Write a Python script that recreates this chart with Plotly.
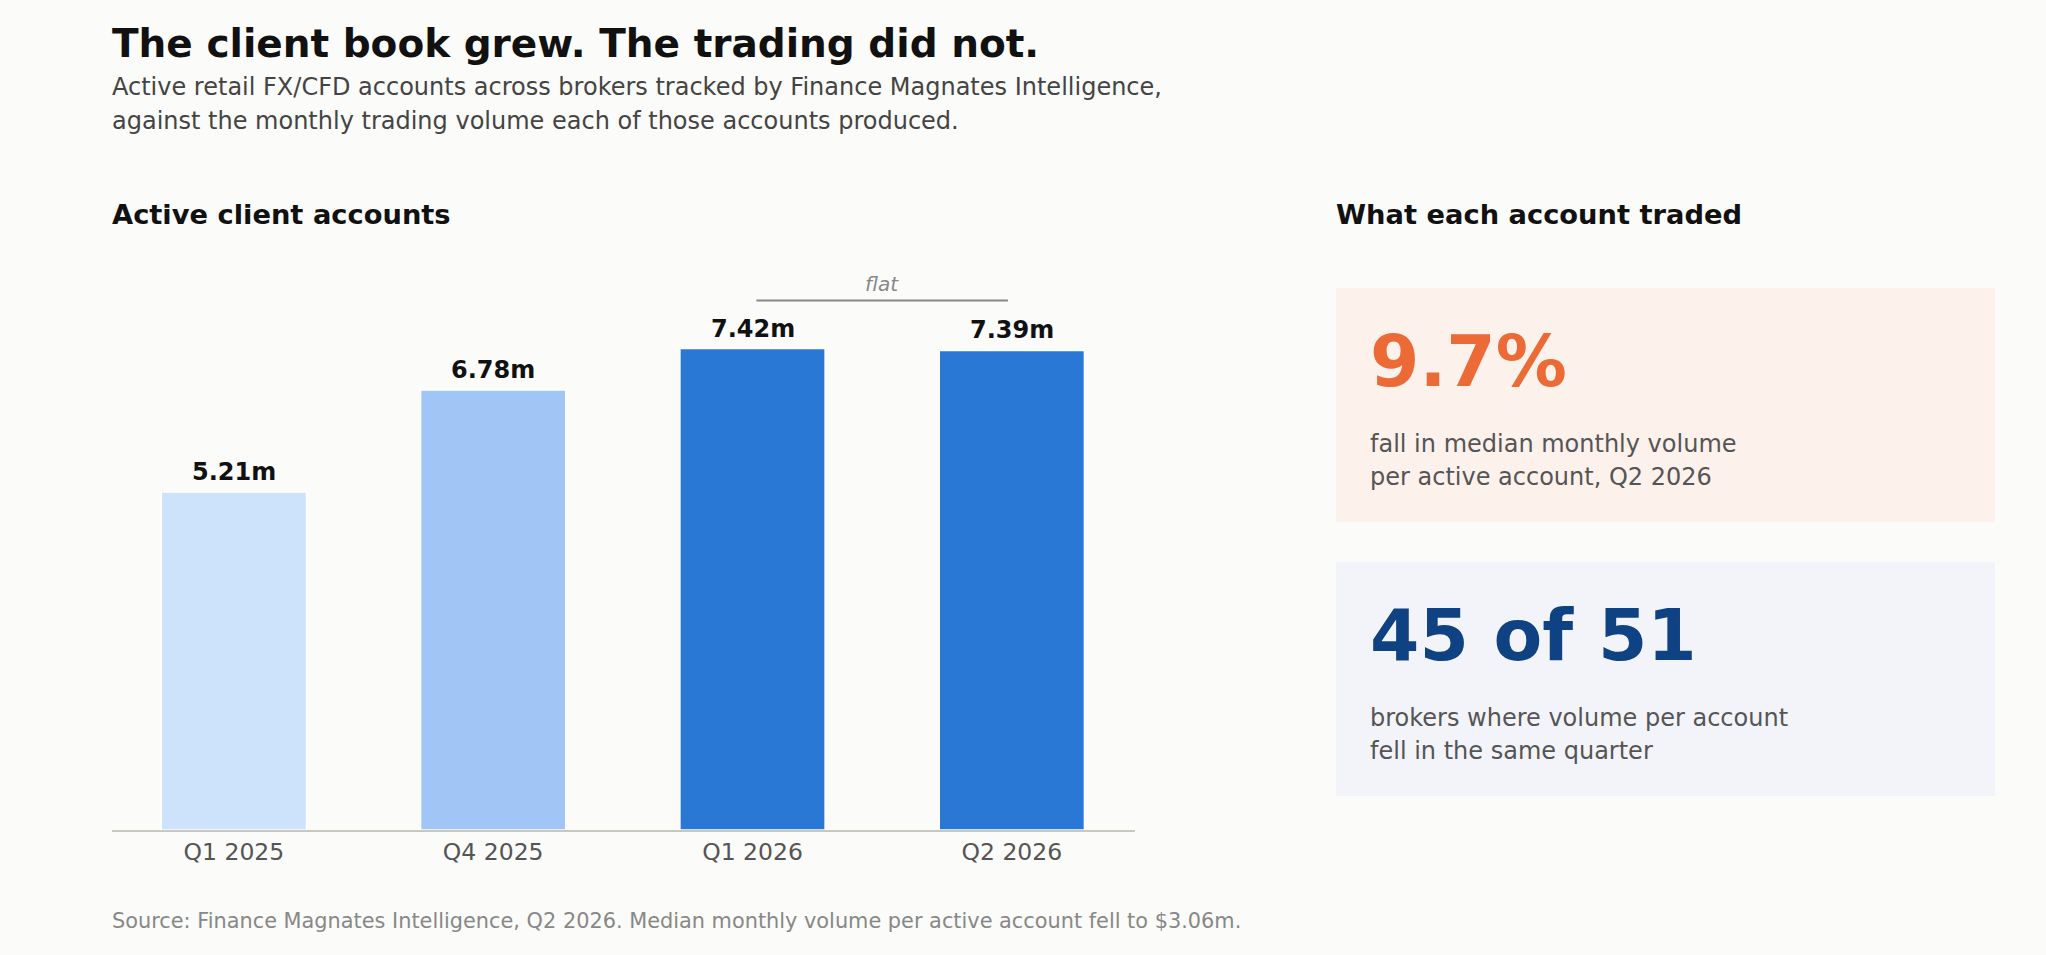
import plotly.graph_objects as go

W, H = 2046, 955
FONT = "DejaVu Sans"
BG = "#fbfbf9"

# data
quarters = ["Q1 2025", "Q4 2025", "Q1 2026", "Q2 2026"]
accounts_m = [5.21, 6.78, 7.42, 7.39]
bar_colors = ["#cde2fb", "#a1c5f4", "#2a78d6", "#2a78d6"]

stat_values = ["9.7%", "45 of 51"]
stat_colors = ["#ec6a36", "#0f4282"]
stat_lines = [
    ["fall in median monthly volume", "per active account, Q2 2026"],
    ["brokers where volume per account", "fell in the same quarter"],
]
card_fills = ["#fdf1ec", "#f3f4f9"]


def px_x(x):
    return x / W


def px_y(y):
    return 1 - y / H


def note(text, x, baseline, size, color, bold=False, italic=False, xanchor="left"):
    # place text by its baseline in pixels
    return dict(
        text=text, xref="paper", yref="paper",
        x=px_x(x), y=px_y(baseline - 0.346 * size),
        xanchor=xanchor, yanchor="middle", showarrow=False,
        font=dict(family=FONT, size=size, color=color,
                  weight="bold" if bold else "normal",
                  style="italic" if italic else "normal"),
    )


fig = go.Figure()
fig.add_trace(go.Bar(
    x=quarters, y=accounts_m, width=0.56,
    marker=dict(color=bar_colors, line=dict(color="white", width=1.5)),
    cliponaxis=False, hoverinfo="skip",
))

flat_y = max(accounts_m) * 1.1

shapes = [
    dict(type="line", xref="x", yref="y", x0=2.015, x1=2.985, y0=flat_y, y1=flat_y,
         line=dict(color="#888", width=2)),
]
card_tops = [288, 562]
for top, fill in zip(card_tops, card_fills):
    shapes.append(dict(type="rect", xref="paper", yref="paper", layer="below",
                       x0=px_x(1336), x1=px_x(1995), y0=px_y(top + 234), y1=px_y(top),
                       fillcolor=fill, line=dict(width=0)))

annotations = [
    note("The client book grew. The trading did not.", 110, 57, 39, "#111", bold=True),
    note("Active retail FX/CFD accounts across brokers tracked by Finance Magnates Intelligence,",
         110, 95, 24, "#444"),
    note("against the monthly trading volume each of those accounts produced.", 110, 129, 24, "#444"),
    note("Active client accounts", 110, 224, 27.3, "#111", bold=True),
    note("What each account traded", 1334, 224, 27.3, "#111", bold=True),
    note("Source: Finance Magnates Intelligence, Q2 2026. Median monthly volume per active account fell to $3.06m.",
         110, 928, 20.85, "#888"),
    dict(text="flat", xref="x", yref="y", x=2.5, y=flat_y, yanchor="bottom", yshift=2,
         showarrow=False, font=dict(family=FONT, size=20, color="#888", style="italic")),
]
for q, v in zip(quarters, accounts_m):
    annotations.append(dict(text=f"{v:.2f}m", xref="x", yref="y", x=q, y=v,
                            yanchor="bottom", yshift=4, showarrow=False,
                            font=dict(family=FONT, size=24, color="#111", weight="bold")))
for top, value, color, lines in zip(card_tops, stat_values, stat_colors, stat_lines):
    annotations.append(note(value, 1368, top + 98, 71, color, bold=True))
    annotations.append(note(lines[0], 1368, top + 164, 24, "#555"))
    annotations.append(note(lines[1], 1368, top + 197, 24, "#555"))

fig.update_layout(
    width=W, height=H, margin=dict(l=0, r=0, t=0, b=0),
    paper_bgcolor=BG, plot_bgcolor=BG,
    showlegend=False,
    font=dict(family=FONT),
    xaxis=dict(domain=[px_x(112), px_x(1135)], type="category", range=[-0.47, 3.475],
               showgrid=False, showline=True, linecolor="#c8c8c0", linewidth=2,
               ticks="", tickfont=dict(family=FONT, size=23.5, color="#555"),
               layer="below traces", fixedrange=True),
    yaxis=dict(domain=[px_y(830), px_y(246)], range=[0, 9], visible=False, fixedrange=True),
    shapes=shapes, annotations=annotations,
)

fig.write_html("out.html", config={"displayModeBar": False},
               post_script="document.body.style.margin='0';")
